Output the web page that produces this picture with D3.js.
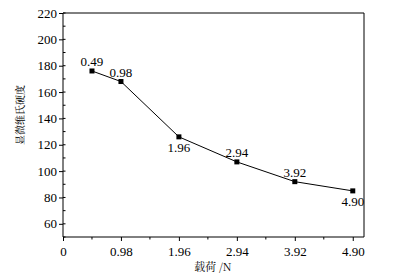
<!DOCTYPE html>
<html>
<head>
<meta charset="utf-8">
<script src="https://cdn.jsdelivr.net/npm/d3@7"></script>
<style>
  body { margin: 0; background: #fff; }
  svg { display: block; }
  .axis path, .axis line { stroke: #000; }
</style>
</head>
<body>
<div id="chart"></div>
<script>
// load in N, hardness values
var loads = [0.49, 0.98, 1.96, 2.94, 3.92, 4.90];
var hardness = [176, 168, 126, 107, 92, 85];
var pointLabels = ["0.49", "0.98", "1.96", "2.94", "3.92", "4.90"];
var labelBelow = [false, false, true, false, false, true];
var xTicks = [0, 0.98, 1.96, 2.94, 3.92, 4.90];
var yTicks = [60, 80, 100, 120, 140, 160, 180, 200, 220];
var xTitle = "载荷 /N";
var yTitle = "显微维氏硬度";

var serif = "'Liberation Serif', 'Times New Roman', serif";
var cjk = "'Noto Serif CJK SC', 'Noto Sans CJK SC', serif";

var totalWidth = 399,
    totalHeight = 277,
    margin = {top: 13, right: 35, bottom: 40, left: 63};
var width = totalWidth - margin.left - margin.right,
    height = totalHeight - margin.top - margin.bottom;

var xScale = d3.scaleLinear().domain([0, 5.09]).range([0, width]);
var yScale = d3.scaleLinear().domain([50, 220]).range([height, 0]);

var svg = d3.select("#chart").append("svg")
    .attr("width", totalWidth)
    .attr("height", totalHeight);

var g = svg.append("g")
    .attr("transform", "translate(" + margin.left + "," + margin.top + ")");

// minor ticks
var xMinor = d3.range(0, 5.1, 0.49).filter(function(v) { return xTicks.indexOf(+v.toFixed(2)) < 0; });
g.selectAll(".xminor").data(xMinor).enter().append("line")
    .attr("x1", function(d) { return xScale(d); })
    .attr("x2", function(d) { return xScale(d); })
    .attr("y1", height).attr("y2", height + 2.5)
    .attr("stroke", "#000");
g.selectAll(".yminor").data(d3.range(50, 221, 10)).enter().append("line")
    .attr("x1", 0).attr("x2", 2.5)
    .attr("y1", function(d) { return yScale(d); })
    .attr("y2", function(d) { return yScale(d); })
    .attr("stroke", "#000");

var xAxis = d3.axisBottom(xScale)
    .tickValues(xTicks)
    .tickSize(4)
    .tickPadding(6)
    .tickFormat(function(d) { return d === 0 ? "0" : d3.format(".2f")(d); });
var yAxis = d3.axisLeft(yScale)
    .tickValues(yTicks)
    .tickSize(4)
    .tickPadding(2)
    .tickFormat(d3.format("d"));

var gx = g.append("g").attr("class", "axis")
    .attr("transform", "translate(0," + height + ")")
    .call(xAxis);
gx.select(".domain").attr("d", "M0,0H" + width);
var gy = g.append("g").attr("class", "axis")
    .call(yAxis);
gy.select(".domain").attr("d", "M0,0V" + height);

g.selectAll(".axis text")
    .style("font-family", serif)
    .style("font-size", "13px")
    .style("fill", "#000");

// top and right frame
g.append("path")
    .attr("d", "M0,0H" + width + "V" + height)
    .attr("fill", "none")
    .attr("stroke", "#000");

var data = loads.map(function(x, i) { return {x: x, y: hardness[i], label: pointLabels[i], below: labelBelow[i]}; });

var line = d3.line()
    .x(function(d) { return xScale(d.x); })
    .y(function(d) { return yScale(d.y); });

g.append("path")
    .datum(data)
    .attr("d", line)
    .attr("fill", "none")
    .attr("stroke", "#000")
    .attr("stroke-width", 1);

g.selectAll(".pt").data(data).enter().append("rect")
    .attr("x", function(d) { return xScale(d.x) - 2.5; })
    .attr("y", function(d) { return yScale(d.y) - 2.5; })
    .attr("width", 5)
    .attr("height", 5)
    .attr("fill", "#000");

g.selectAll(".lbl").data(data).enter().append("text")
    .attr("class", "lbl")
    .attr("x", function(d) { return xScale(d.x); })
    .attr("y", function(d) { return yScale(d.y) + (d.below ? 15 : -5); })
    .attr("text-anchor", "middle")
    .style("font-family", serif)
    .style("font-size", "13px")
    .text(function(d) { return d.label; });

// axis titles
svg.append("text")
    .attr("x", margin.left + xScale(2.94) - 24)
    .attr("y", 271)
    .attr("text-anchor", "middle")
    .style("font-family", cjk)
    .style("font-size", "11px")
    .text(xTitle);

svg.append("text")
    .attr("transform", "translate(24,115) rotate(-90)")
    .attr("text-anchor", "middle")
    .style("font-family", cjk)
    .style("font-size", "10px")
    .text(yTitle);
</script>
</body>
</html>
